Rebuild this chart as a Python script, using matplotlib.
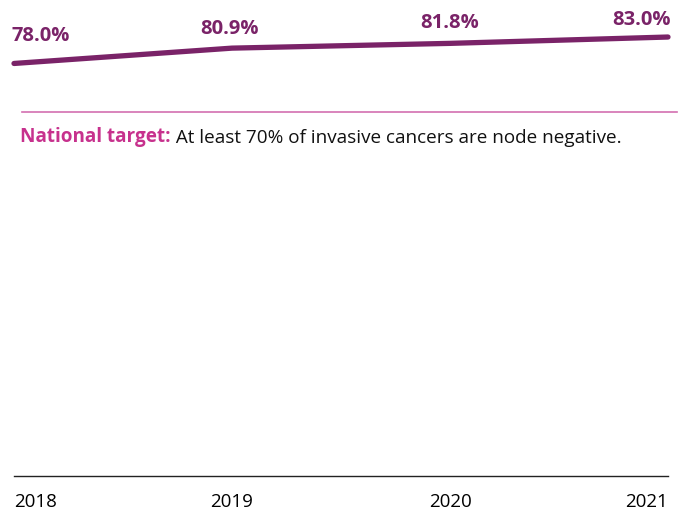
import matplotlib.pyplot as plt
from matplotlib.lines import Line2D

years = [2018, 2019, 2020, 2021]
node_negative = [78.0, 80.9, 81.8, 83.0]
value_labels = ["78.0%", "80.9%", "81.8%", "83.0%"]
target_lead = "National target:"
target_text = " At least 70% of invasive cancers are node negative."

purple = "#7a2368"
pink = "#c7318d"
plt.rcParams["font.family"] = ["Open Sans", "DejaVu Sans"]

fig = plt.figure(figsize=(6.86, 5.12), dpi=100)
ax = fig.add_axes([14 / 686, 36 / 512, 654 / 686, 476 / 512])

ax.plot(years, node_negative, color=purple, lw=3.8, solid_capstyle="round", clip_on=False)
ax.set_xlim(2018, 2021)
ax.set_ylim(0, 90)

# labels sit above each point; ends are aligned to the line ends
aligns = ["left", "center", "center", "right"]
dx = [-2, -2, 0, 2]
dy = [16.5, 10, 11, 8.6]
for x, y, lab, ha, ox, oy in zip(years, node_negative, value_labels, aligns, dx, dy):
    ax.annotate(lab, (x, y), xytext=(ox, oy), textcoords="offset points",
                ha=ha, va="baseline", fontsize=14.5, fontweight="bold", color=purple)

ax.set_xticks(years)
ax.set_xticklabels([str(y) for y in years], fontsize=13.5)
for t, ha in zip(ax.get_xticklabels(), aligns):
    t.set_horizontalalignment(ha)
ax.tick_params(axis="x", length=0, pad=12)
ax.set_yticks([])
for side in ["top", "left", "right"]:
    ax.spines[side].set_visible(False)
ax.spines["bottom"].set_linewidth(1.0)
ax.spines["bottom"].set_color("#222222")

# separator and target note
fig.add_artist(Line2D([22 / 686, 677 / 686], [1 - 112 / 512] * 2,
                      transform=fig.transFigure, color="#d36fb0", lw=1.2))
lead = fig.text(20 / 686, 1 - 137 / 512, target_lead, fontsize=13.6,
                fontweight="bold", color=pink, va="center", ha="left")
ax.annotate(target_text, xy=(1, 0), xycoords=lead, va="bottom", ha="left",
            fontsize=13.6, color="#111111")

fig.savefig("out.png", dpi=100)
